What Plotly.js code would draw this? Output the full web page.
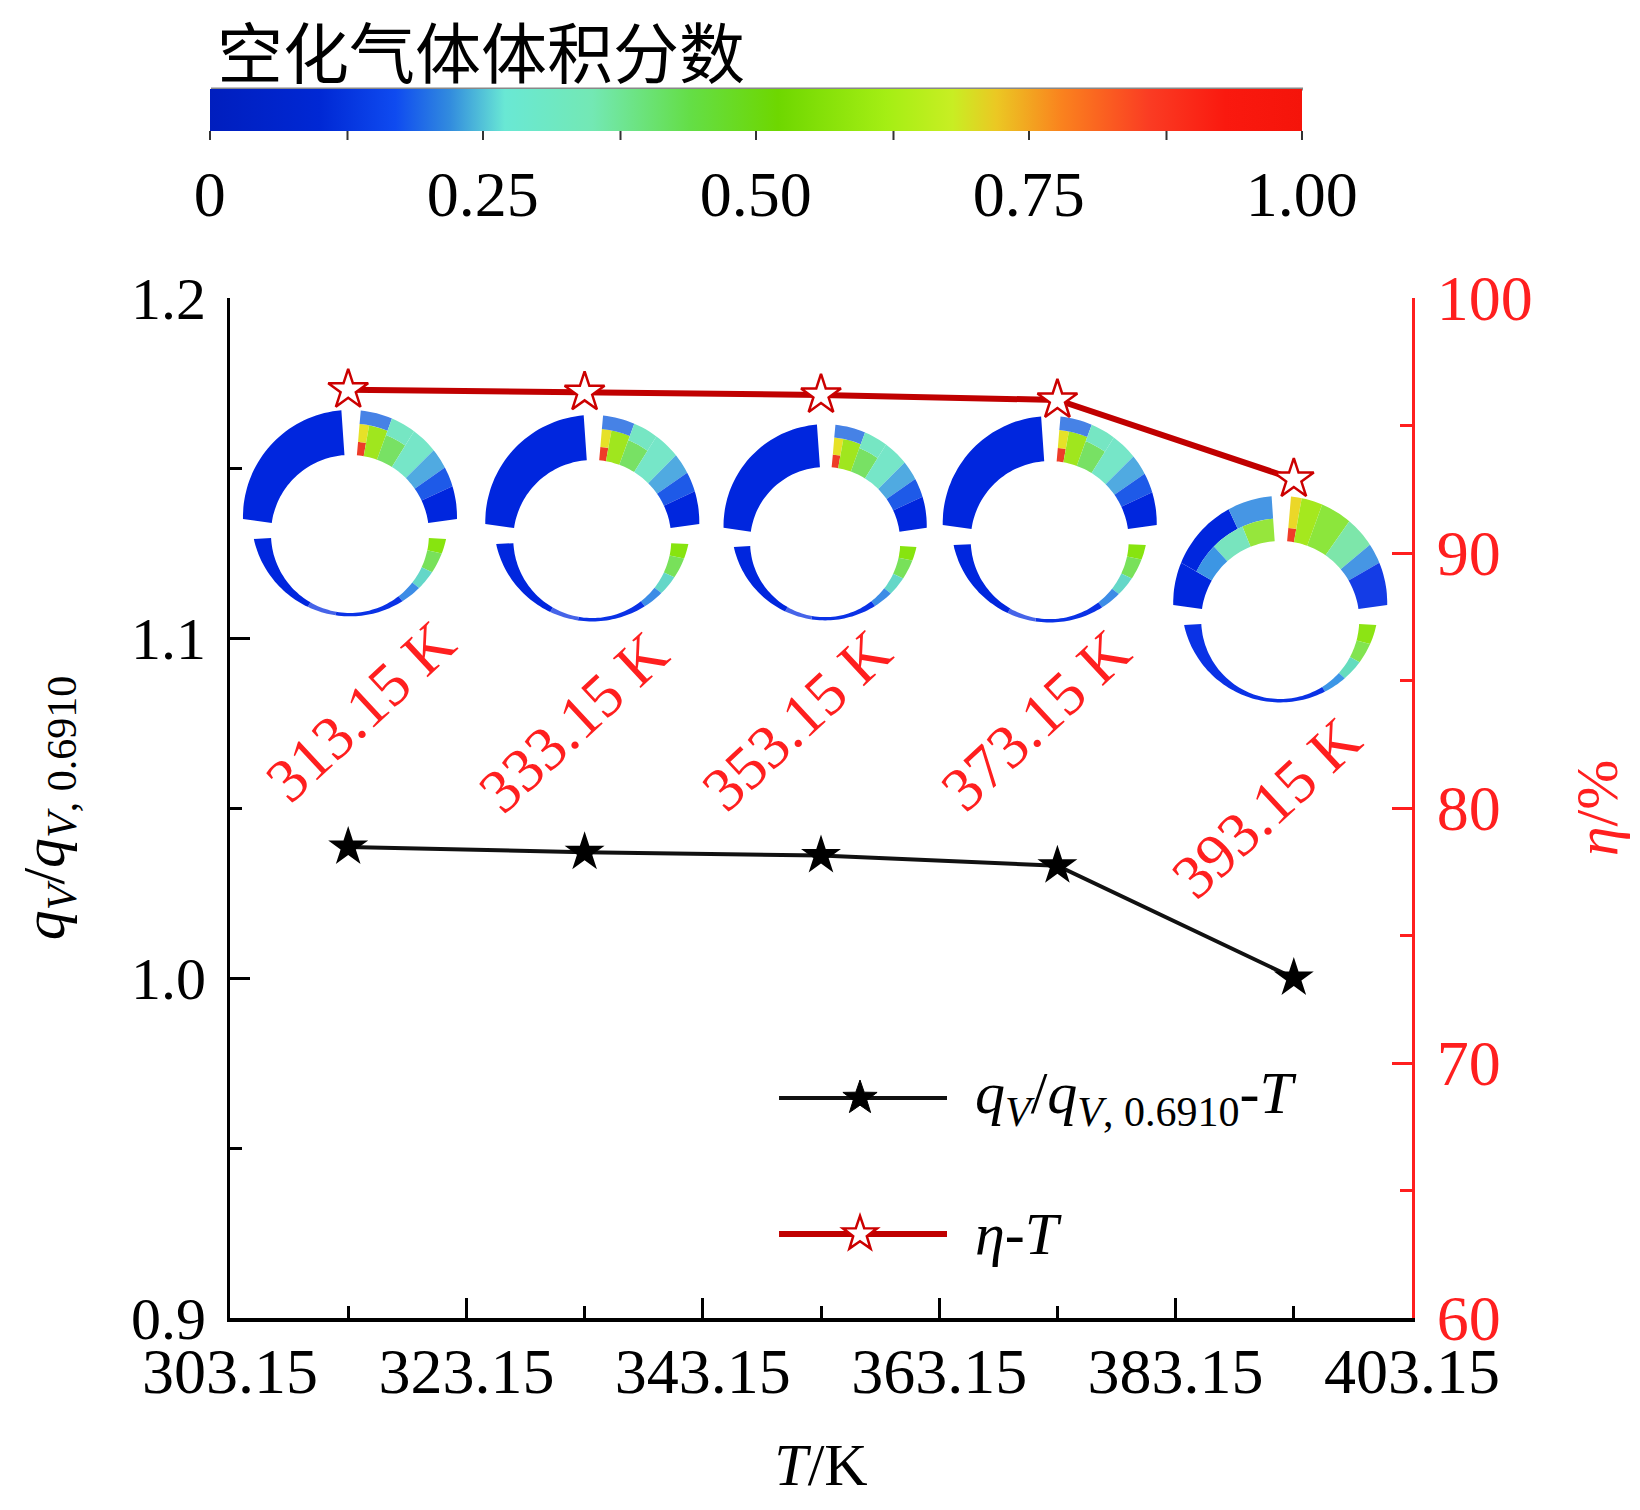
<!DOCTYPE html>
<html>
<head>
<meta charset="utf-8">
<script src="https://cdn.plot.ly/plotly-3.0.1.min.js"></script>
<style>body{margin:0;background:#fff}</style>
</head>
<body>
<div id="gd" style="width:1640px;height:1510px"></div>
<script>
// data
const temps = [313.15, 333.15, 353.15, 373.15, 393.15];
const flowRatio = [1.0385, 1.0370, 1.0360, 1.0330, 1.0000];
const efficiency = [96.4, 96.3, 96.2, 96.0, 92.9];

const xTicks = [303.15, 323.15, 343.15, 363.15, 383.15, 403.15];
const xMinor = [313.15, 333.15, 353.15, 373.15, 393.15];
const leftTicks = [0.9, 1.0, 1.1, 1.2];
const leftMinor = [0.95, 1.05, 1.15];
const rightTicks = [60, 70, 80, 90, 100];
const rightMinor = [65, 75, 85, 95];
const cbTickVals = [0, 0.25, 0.5, 0.75, 1];
const cbTickText = ['0', '0.25', '0.50', '0.75', '1.00'];
const cbMinor = [0.125, 0.375, 0.625, 0.875];

const cbScale = [
    [0, 'rgb(0,30,190)'], [0.1, 'rgb(0,40,212)'], [0.17, 'rgb(15,75,240)'],
    [0.22, 'rgb(50,140,222)'], [0.27, 'rgb(105,232,212)'], [0.35, 'rgb(115,232,180)'],
    [0.44, 'rgb(100,222,70)'], [0.52, 'rgb(110,215,0)'], [0.62, 'rgb(165,238,20)'],
    [0.68, 'rgb(200,238,35)'], [0.72, 'rgb(235,200,35)'], [0.78, 'rgb(250,130,30)'],
    [0.86, 'rgb(250,60,35)'], [0.93, 'rgb(250,25,15)'], [1, 'rgb(245,20,10)']
];

// where the pump sections and their labels sit (layout, not data)
const ringX = [313.3, 333.8, 353.5, 372.5, 392.0];
const ringY = [1.1306, 1.1291, 1.1282, 1.1288, 1.1053];
const ringScale = [1, 1, 0.95, 1, 1];
const labelX = [314.2, 332.2, 351.1, 371.3, 390.8];
const labelY = [1.0785, 1.0753, 1.0759, 1.0759, 1.05];

const RED = '#ff1f1f';
const SERIF = 'Liberation Serif, Times New Roman, serif';
const B = 'rgb(0,38,222)';

// plot box in pixels, used to place the colour bar pieces
const plotL = 230, plotR = 1412, plotT = 298, plotB = 1318;
const barL = 211, barW = 1092, barTop = 89, barH = 42;
function pxX(px) { return (px - plotL) / (plotR - plotL); }
function pxY(py) { return (plotB - py) / (plotB - plotT); }

// colour pieces of one section: [angle from, angle to, inner frac, outer frac, colour, part]
const ringA = [
    [94, 172, 0, 1, B, 'u'],
    [80, 85, 0, 0.3, 'rgb(238,60,40)', 'u'],
    [80, 85, 0.3, 0.7, 'rgb(230,225,40)', 'u'],
    [70, 80, 0, 0.7, 'rgb(160,230,30)', 'u'],
    [70, 85, 0.7, 1, 'rgb(70,130,230)', 'u'],
    [58, 70, 0, 0.6, 'rgb(120,225,100)', 'u'],
    [58, 70, 0.6, 1, 'rgb(118,230,195)', 'u'],
    [45, 58, 0, 1, 'rgb(118,230,200)', 'u'],
    [35, 45, 0, 1, 'rgb(80,170,225)', 'u'],
    [25, 35, 0, 1, 'rgb(30,90,232)', 'u'],
    [8, 25, 0, 1, B, 'u'],
    [-3, -12, 0, 1, 'rgb(135,228,15)', 'l'],
    [-12, -25, 0, 1, 'rgb(120,225,90)', 'l'],
    [-25, -38, 0, 1, 'rgb(100,215,200)', 'l'],
    [-38, -52, 0, 1, 'rgb(60,140,230)', 'l'],
    [-52, -100, 0, 1, 'rgb(10,50,230)', 'l'],
    [-100, -120, 0, 1, 'rgb(70,100,232)', 'l'],
    [-120, -177, 0, 1, B, 'l']
];
const ringB = [
    [150, 172, 0, 1, B, 'u'],
    [115, 150, 0.5, 1, B, 'u'],
    [94, 115, 0.5, 1, 'rgb(70,150,228)', 'u'],
    [94, 112, 0, 0.5, 'rgb(150,230,60)', 'u'],
    [112, 132, 0, 0.5, 'rgb(120,228,190)', 'u'],
    [132, 150, 0, 0.5, 'rgb(60,150,228)', 'u'],
    [80, 85, 0, 0.3, 'rgb(240,60,40)', 'u'],
    [80, 85, 0.3, 1, 'rgb(235,215,40)', 'u'],
    [70, 80, 0, 1, 'rgb(165,232,30)', 'u'],
    [55, 70, 0, 1, 'rgb(140,230,60)', 'u'],
    [40, 55, 0, 1, 'rgb(125,230,170)', 'u'],
    [30, 40, 0, 1, 'rgb(70,150,228)', 'u'],
    [8, 30, 0, 1, 'rgb(20,60,230)', 'u'],
    [-3, -15, 0, 1, 'rgb(140,228,20)', 'l'],
    [-15, -28, 0, 1, 'rgb(130,228,80)', 'l'],
    [-28, -42, 0, 1, 'rgb(100,220,190)', 'l'],
    [-42, -58, 0, 1, 'rgb(60,150,230)', 'l'],
    [-58, -177, 0, 1, 'rgb(10,50,230)', 'l']
];

function sinD(a) { return Math.sin(a * Math.PI / 180); }
function cosD(a) { return Math.cos(a * Math.PI / 180); }
function upperOuter(a) { const s = sinD(a); return 17 * s + Math.sqrt(289 * s * s + 11160); }
function lowerOuter(a) { const s = sinD(a); return 16 * s + Math.sqrt(256 * s * s + 9427); }

function piecePath(p, k) {
    const a1 = p[0], a2 = p[1], f0 = p[2], f1 = p[3];
    const outer = p[5] === 'u' ? upperOuter : lowerOuter;
    const rin = 79;
    const n = Math.max(2, Math.ceil(Math.abs(a2 - a1) / 2));
    const pts = [];
    for (let i = 0; i <= n; i++) {
        const a = a1 + (a2 - a1) * i / n;
        const r = (rin + f1 * (outer(a) - rin)) * k;
        pts.push([r * cosD(a), r * sinD(a)]);
    }
    for (let i = n; i >= 0; i--) {
        const a = a1 + (a2 - a1) * i / n;
        const r = (rin + f0 * (outer(a) - rin)) * k;
        pts.push([r * cosD(a), r * sinD(a)]);
    }
    return 'M' + pts.map(q => q[0].toFixed(1) + ',' + q[1].toFixed(1)).join('L') + 'Z';
}

function starPath(R) {
    const pts = [];
    for (let i = 0; i < 10; i++) {
        const r = i % 2 === 0 ? R : R * 0.4;
        const a = 90 + i * 36;
        pts.push([r * cosD(a), r * sinD(a)]);
    }
    return 'M' + pts.map(q => q[0].toFixed(1) + ',' + q[1].toFixed(1)).join('L') + 'Z';
}

let shapes = [];
ringX.forEach(function (cx, i) {
    const pieces = i === 4 ? ringB : ringA;
    pieces.forEach(function (p) {
        shapes.push({
            type: 'path', xref: 'x', yref: 'y',
            xsizemode: 'pixel', ysizemode: 'pixel',
            xanchor: cx, yanchor: ringY[i],
            path: piecePath(p, ringScale[i]),
            fillcolor: p[4], line: {width: 0}, layer: 'below'
        });
    });
});

// unlabelled ticks of the colour bar
cbMinor.forEach(function (v) {
    const px = barL + v * barW;
    shapes.push({type: 'line', xref: 'paper', yref: 'paper',
        x0: pxX(px), x1: pxX(px), y0: pxY(barTop + barH), y1: pxY(barTop + barH + 9),
        line: {color: '#333', width: 2}});
});
// thin grey edge along the top of the bar
shapes.push({type: 'line', xref: 'paper', yref: 'paper',
    x0: pxX(barL), x1: pxX(barL + barW), y0: pxY(barTop), y1: pxY(barTop),
    line: {color: '#888', width: 3}});

// hand made legend
const legY = [0.2157, 0.0824];
shapes.push({type: 'line', xref: 'paper', yref: 'paper', x0: 0.4645, x1: 0.6066, y0: legY[0], y1: legY[0],
    line: {color: '#111', width: 4}});
shapes.push({type: 'line', xref: 'paper', yref: 'paper', x0: 0.4645, x1: 0.6066, y0: legY[1], y1: legY[1],
    line: {color: '#c00000', width: 6}});
shapes.push({type: 'path', xref: 'paper', yref: 'paper', xsizemode: 'pixel', ysizemode: 'pixel',
    xanchor: 0.533, yanchor: legY[0], path: starPath(18), fillcolor: '#000', line: {color: '#000', width: 1}});
shapes.push({type: 'path', xref: 'paper', yref: 'paper', xsizemode: 'pixel', ysizemode: 'pixel',
    xanchor: 0.533, yanchor: legY[1], path: starPath(18), fillcolor: '#fff', line: {color: '#cc0000', width: 2.5}});

let annotations = temps.map(function (t, i) {
    return {
        xref: 'x', yref: 'y', x: labelX[i], y: labelY[i],
        text: t.toFixed(2) + ' K', showarrow: false, textangle: -43,
        font: {family: SERIF, size: 62, color: RED}
    };
});
annotations.push({
    xref: 'paper', yref: 'paper', x: 0.6286, y: legY[0], xanchor: 'left', yanchor: 'middle', showarrow: false,
    text: '<i>q</i><sub><i>V</i></sub>/<i>q</i><sub><i>V</i>, 0.6910</sub>-<i>T</i>',
    font: {family: SERIF, size: 60, color: '#000'}
});
annotations.push({
    xref: 'paper', yref: 'paper', x: 0.6286, y: legY[1], xanchor: 'left', yanchor: 'middle', showarrow: false,
    text: '<i>η</i>-<i>T</i>',
    font: {family: SERIF, size: 60, color: '#000'}
});
// colour bar title
annotations.push({
    xref: 'paper', yref: 'paper', x: pxX(216), y: pxY(0), xanchor: 'left', yanchor: 'top', showarrow: false,
    borderpad: 0,
    text: '空化气体体积分数',
    font: {family: 'Noto Sans CJK SC', size: 66, color: '#000'}
});

let traceFlow = {
    x: temps,
    y: flowRatio,
    type: 'scatter',
    mode: 'lines+markers',
    line: {color: '#111', width: 4},
    marker: {symbol: 'star', size: 30, color: '#000'},
    showlegend: false
};

let traceEff = {
    x: temps,
    y: efficiency,
    yaxis: 'y2',
    type: 'scatter',
    mode: 'lines+markers',
    line: {color: '#c00000', width: 6},
    marker: {symbol: 'star', size: 30, color: '#fff', line: {color: '#cc0000', width: 2.5}},
    showlegend: false
};

let traceScale = {
    x: [null], y: [null],
    type: 'scatter', mode: 'markers',
    hoverinfo: 'skip', showlegend: false,
    marker: {
        color: [0], cmin: 0, cmax: 1, colorscale: cbScale, showscale: true,
        colorbar: {
            orientation: 'h',
            xref: 'container', yref: 'container',
            lenmode: 'pixels', len: barW,
            thicknessmode: 'pixels', thickness: barH,
            x: (barL + 80) / 1640, xanchor: 'left',
            y: 1 - barTop / 1510, yanchor: 'top',
            xpad: 0, ypad: 0,
            outlinewidth: 0,
            tickmode: 'array', tickvals: cbTickVals, ticktext: cbTickText,
            ticks: 'outside', ticklen: 9, tickwidth: 2, tickcolor: '#333',
            tickfont: {family: SERIF, size: 64, color: '#000'}
        }
    }
};

let layout = {
    width: 1640,
    height: 1510,
    autosize: false,
    margin: {l: plotL, r: 1640 - plotR, t: plotT, b: 1510 - plotB},
    paper_bgcolor: '#fff',
    plot_bgcolor: '#fff',
    showlegend: false,
    xaxis: {
        range: [303.15, 403.15],
        tickmode: 'array', tickvals: xTicks, ticktext: xTicks.map(v => v.toFixed(2)),
        ticks: 'inside', ticklen: 20, tickwidth: 3, tickcolor: '#000',
        minor: {tickvals: xMinor, ticks: 'inside', ticklen: 12, tickwidth: 3, tickcolor: '#000'},
        showline: true, linecolor: '#000', linewidth: 4,
        showgrid: false, zeroline: false,
        tickfont: {family: SERIF, size: 64, color: '#000'},
        ticklabelstandoff: -6,
        title: {text: '<i>T</i>/K', font: {family: SERIF, size: 60, color: '#000'}, standoff: 38}
    },
    yaxis: {
        range: [0.9, 1.2],
        tickmode: 'array', tickvals: leftTicks, ticktext: leftTicks.map(v => v.toFixed(1)),
        ticks: 'inside', ticklen: 20, tickwidth: 3, tickcolor: '#000',
        minor: {tickvals: leftMinor, ticks: 'inside', ticklen: 12, tickwidth: 3, tickcolor: '#000'},
        showline: true, linecolor: '#000', linewidth: 3,
        showgrid: false, zeroline: false,
        tickfont: {family: SERIF, size: 60, color: '#000'},
        ticklabelstandoff: 9,
        title: {text: '<i>q</i><sub><i>V</i></sub>/<i>q</i><sub><i>V</i>, 0.6910</sub>',
            font: {family: SERIF, size: 60, color: '#000'}, standoff: 48}
    },
    yaxis2: {
        range: [60, 100],
        overlaying: 'y', side: 'right',
        tickmode: 'array', tickvals: rightTicks,
        ticks: 'inside', ticklen: 20, tickwidth: 3, tickcolor: RED,
        minor: {tickvals: rightMinor, ticks: 'inside', ticklen: 12, tickwidth: 3, tickcolor: RED},
        showline: true, linecolor: RED, linewidth: 3,
        showgrid: false, zeroline: false,
        tickfont: {family: SERIF, size: 64, color: RED},
        ticklabelstandoff: 9,
        title: {text: '<i>η</i>/%', font: {family: SERIF, size: 60, color: RED}, standoff: 44}
    },
    shapes: shapes,
    annotations: annotations
};

Plotly.newPlot('gd', [traceFlow, traceEff, traceScale], layout, {displayModeBar: false, responsive: false});
</script>
</body>
</html>
